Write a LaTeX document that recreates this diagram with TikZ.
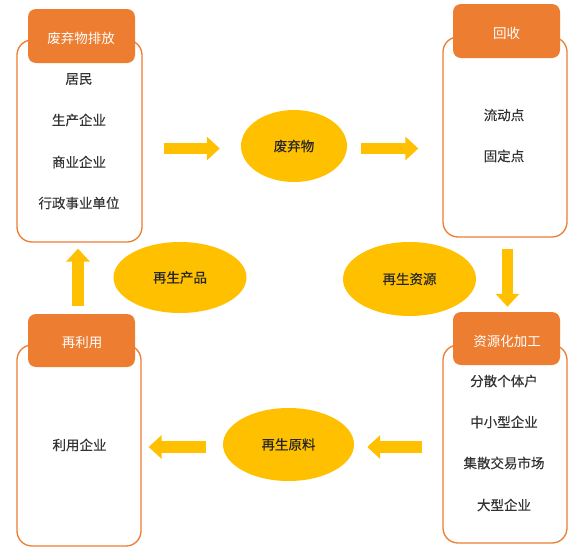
\documentclass[tikz,border=0pt]{standalone}
\usepackage{fontspec}
\setmainfont{Noto Sans CJK SC}[BoldFont=Noto Sans CJK SC, BoldFeatures={FakeBold=0.2}]
\usetikzlibrary{arrows.meta}
\definecolor{orng}{HTML}{ED7D31}
\definecolor{ylw}{HTML}{FFC000}
\definecolor{txt}{HTML}{333333}
\tikzset{
  outerbox/.style={draw=orng, line width=1.3pt, fill=white, rounded corners=15pt, minimum width=#1, inner sep=0pt},
  hdr/.style={fill=orng, rounded corners=8pt, minimum width=107pt, minimum height=54pt, inner sep=0pt},
  hdrtext/.style={text=white, font=\fontsize{13.5}{16}\selectfont, inner sep=0pt},
  item/.style={text=txt, font=\fontsize{13.5}{16}\selectfont\bfseries, inner sep=0pt},
  oval/.style={ellipse, fill=ylw, inner sep=0pt, text=black!85, font=\fontsize{13.5}{16}\selectfont\bfseries},
  bigarrow/.style={draw=ylw, line width=11.5pt, -{Triangle[length=13pt, width=23pt]}}
}
\usetikzlibrary{shapes.geometric}
\begin{document}
\begin{tikzpicture}[x=1pt, y=-1pt]
\useasboundingbox (0,0) rectangle (587,552);
% boxes
\node[outerbox=125pt, minimum height=202pt] (b1) at (79.5,141) {};
\node[hdr] (h1) at (81.5,36) {};
\node[hdrtext] (h1t) at (81,38) {废弃物排放};
\node[item] (i11) at (79,79) {居民};
\node[item] (i12) at (79,120) {生产企业};
\node[item] (i13) at (79,162) {商业企业};
\node[item] (i14) at (79,203) {行政事业单位};

\node[outerbox=124pt, minimum height=200pt] (b2) at (505,137) {};
\node[hdr] (h2) at (506.5,31) {};
\node[hdrtext] (h2t) at (506.5,33) {回收};
\node[item] (i21) at (504,115) {流动点};
\node[item] (i22) at (504,156) {固定点};

\node[outerbox=124pt, minimum height=201pt] (b3) at (79,445.5) {};
\node[hdr, minimum height=53pt] (h3) at (81.5,340.5) {};
\node[hdrtext] (h3t) at (82,342) {再利用};
\node[item] (i31) at (79.5,445) {利用企业};

\node[outerbox=124pt, minimum height=198pt] (b4) at (505,444) {};
\node[hdr, minimum height=53pt] (h4) at (506.5,338.5) {};
\node[hdrtext] (h4t) at (507,341) {资源化加工};
\node[item] (i41) at (504,381) {分散个体户};
\node[item] (i42) at (504,422) {中小型企业};
\node[item] (i43) at (504,463) {集散交易市场};
\node[item] (i44) at (504,505) {大型企业};

% ellipses
\node[oval, minimum width=106pt, minimum height=72pt] (e1) at (294,146) {废弃物};
\node[oval, minimum width=133pt, minimum height=71pt] (e2) at (180,277.5) {再生产品};
\node[oval, minimum width=133pt, minimum height=74pt] (e3) at (409.5,279) {再生资源};
\node[oval, minimum width=131pt, minimum height=73pt] (e4) at (288.5,444.5) {再生原料};

% arrows
\draw[bigarrow, shorten <=21pt, shorten >=21pt] ([yshift=-2.5pt]b1.east |- e1.west) -- ([yshift=-2.5pt]e1.west);
\draw[bigarrow, shorten <=14pt, shorten >=24pt] ([yshift=-2.5pt]e1.east) -- ([yshift=-2.5pt]b2.west |- e1.east);
\draw[bigarrow, shorten <=11pt, shorten >=5pt] ([xshift=2.5pt]b2.south) -- ([xshift=1pt]h4.north);
\draw[bigarrow, shorten <=20pt, shorten >=13pt] ([yshift=-2.5pt]b4.west |- e4.east) -- ([yshift=-2.5pt]e4.east);
\draw[bigarrow, shorten <=17pt, shorten >=7pt] ([yshift=-2.5pt]e4.west) -- ([yshift=-2.5pt]b3.east |- e4.west);
\draw[bigarrow, shorten <=8pt, shorten >=6pt] ([xshift=-3.5pt]h3.north) -- ([xshift=-1.5pt]b1.south);
\end{tikzpicture}
\end{document}
